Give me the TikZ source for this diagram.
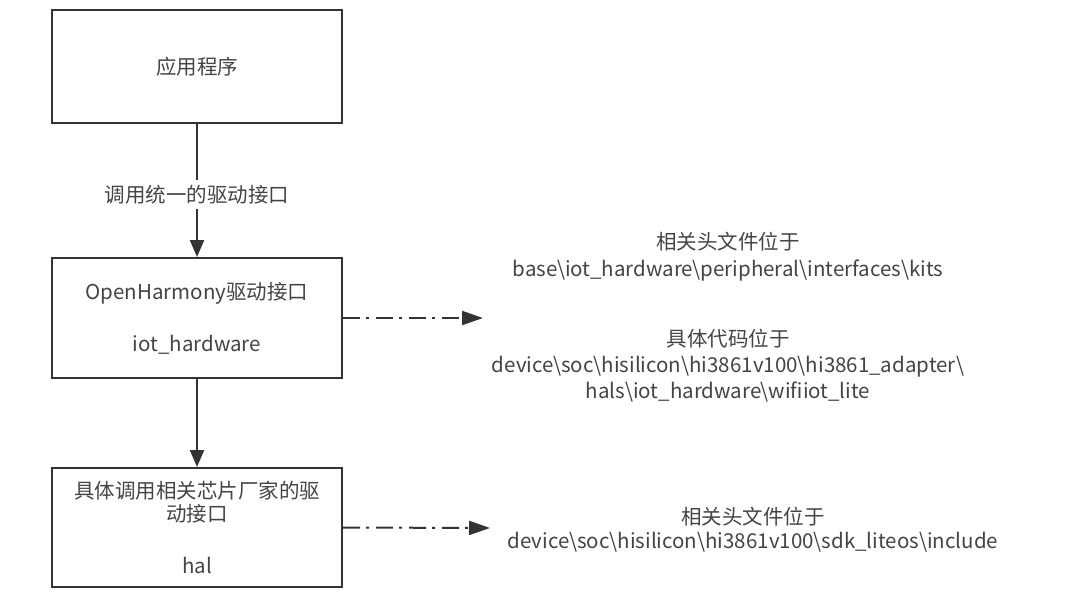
\documentclass[tikz,border=0pt]{standalone}
\usepackage{fontspec}
\setmainfont{Noto Sans CJK SC}
\usetikzlibrary{arrows.meta}
\newcommand{\bsl}{\textbackslash}
\definecolor{linie}{HTML}{333333}
\definecolor{schrift}{HTML}{444444}
\begin{document}
\begin{tikzpicture}[x=1pt,y=-1pt,
    box/.style={draw=linie,line width=2pt,minimum width=290pt,inner sep=0pt,align=center,text=schrift},
    tok/.style={draw=linie,line width=2.2pt,-{Triangle[length=17pt,width=14pt]}},
    odkaz/.style={draw=linie,line width=2pt,dash pattern=on 17pt off 6pt on 3pt off 7pt,-{Triangle[length=21pt,width=14pt]}},
    popis/.style={align=center,text=schrift,inner sep=0pt}]
    \fill[white] (0,0) rectangle (1092,606);
    \fontsize{20.5}{23}\selectfont

    \node[box,minimum height=113pt] (app) at (197,66.5) {应用程序};
    \node[box,minimum height=120pt,font=\fontsize{20.5}{26}\selectfont] (oh) at (197,318) {OpenHarmony驱动接口\\[26pt]iot\_hardware};
    \node[box,minimum height=119pt,font=\fontsize{20.5}{23}\selectfont] (hal) at (197,527.5) {具体调用相关芯片厂家的驱\\动接口\\[29pt]hal};

    \draw[tok] (app) -- node[pos=0.53,fill=white,text=schrift,inner ysep=5pt,inner xsep=1pt] {调用统一的驱动接口} (oh);
    \draw[tok] (oh) -- (hal);

    \coordinate (p1) at (483,318);
    \coordinate (p2) at (490,528);
    \draw[odkaz] (oh.east) -- (p1);
    \draw[odkaz] (hal.east) -- (p2);

    \node[popis,font=\fontsize{20.5}{27}\selectfont] (kits) at (728,256.5) {相关头文件位于\\base\bsl iot\_hardware\bsl peripheral\bsl interfaces\bsl kits};
    \node[popis,font=\fontsize{20.5}{26}\selectfont] (code) at (728,366) {具体代码位于\\device\bsl soc\bsl hisilicon\bsl hi3861v100\bsl hi3861\_adapter\bsl\\hals\bsl iot\_hardware\bsl wifiiot\_lite};
    \node[popis,font=\fontsize{20.5}{24}\selectfont] (sdk) at (753,530) {相关头文件位于\\device\bsl soc\bsl hisilicon\bsl hi3861v100\bsl sdk\_liteos\bsl include};
\end{tikzpicture}
\end{document}
